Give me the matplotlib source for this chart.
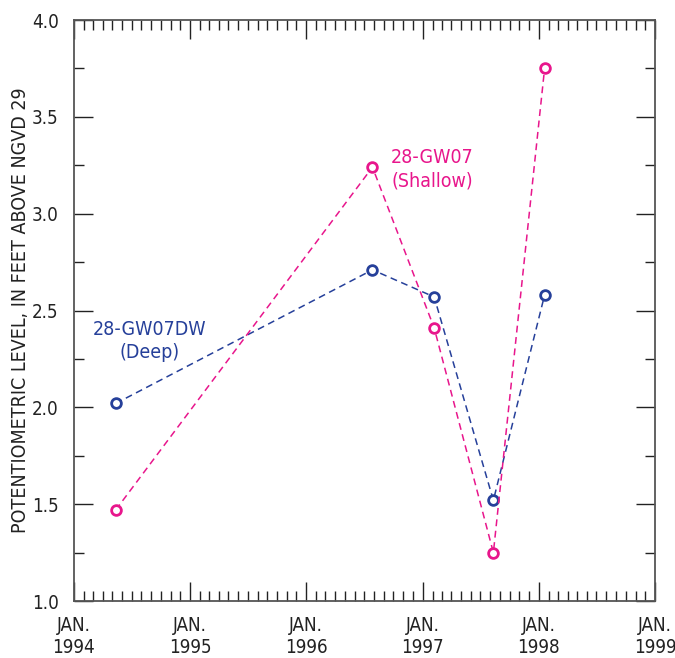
import numpy as np
import pandas as pd
import matplotlib
matplotlib.use("Agg")
from matplotlib import pyplot as plt
import matplotlib.dates as mdates
from matplotlib.ticker import MultipleLocator

plt.rcParams['font.family'] = ['DejaVu Sans']
plt.rcParams['font.stretch'] = 'condensed'

# sampling dates (same for both wells)
dates = pd.to_datetime(["1994-05-12", "1996-07-27", "1997-02-06", "1997-08-11", "1998-01-19"])
deep = [2.02, 2.71, 2.57, 1.52, 2.58]
shallow = [1.47, 3.24, 2.41, 1.25, 3.75]

blue = "#26409a"
pink = "#e8168c"

fig = plt.figure(figsize=(6.75, 6.58), dpi=100)
ax = fig.add_axes([0.1096, 0.0866, 0.8608, 0.883])

ax.plot(dates, deep, ls=(0, (4.5, 3)), lw=1.1, color=blue, marker='o', ms=7,
        mfc='white', mec=blue, mew=2)
ax.plot(dates, shallow, ls=(0, (4.5, 3)), lw=1.1, color=pink, marker='o', ms=7,
        mfc='white', mec=pink, mew=2)

ax.set_xlim(pd.Timestamp("1994-01-01"), pd.Timestamp("1999-01-01"))
ax.set_ylim(1.0, 4.0)

ax.xaxis.set_major_locator(mdates.YearLocator())
ax.xaxis.set_minor_locator(mdates.MonthLocator())
ax.xaxis.set_major_formatter(mdates.DateFormatter("JAN.\n%Y"))
ax.yaxis.set_major_locator(MultipleLocator(0.5))
ax.yaxis.set_minor_locator(MultipleLocator(0.25))
ax.yaxis.set_major_formatter(plt.FormatStrFormatter("%.1f"))

ax.tick_params(which='both', direction='in', top=True, right=True, width=1.0,
               color='#222222', labelsize=13.5, labelcolor='#222222')
ax.tick_params(which='major', length=14)
ax.tick_params(which='minor', length=7)
ax.tick_params(axis='x', pad=11)
ax.tick_params(axis='y', pad=11)
for lab in ax.get_xticklabels():
    lab.set_linespacing(1.2)
for s in ax.spines.values():
    s.set_linewidth(1.3)
    s.set_color('#555555')

ax.set_ylabel("POTENTIOMETRIC LEVEL, IN FEET ABOVE NGVD 29", fontsize=14,
              labelpad=1, color='#222222')

ax.text(pd.Timestamp("1994-08-26"), 2.343, "28-GW07DW\n(Deep)", color=blue,
        fontsize=14, ha='center', va='center', linespacing=1.25)
ax.text(pd.Timestamp("1997-01-30"), 3.23, "28-GW07\n(Shallow)", color=pink,
        fontsize=14, ha='center', va='center', linespacing=1.25)

fig.savefig("out.png", dpi=100)
